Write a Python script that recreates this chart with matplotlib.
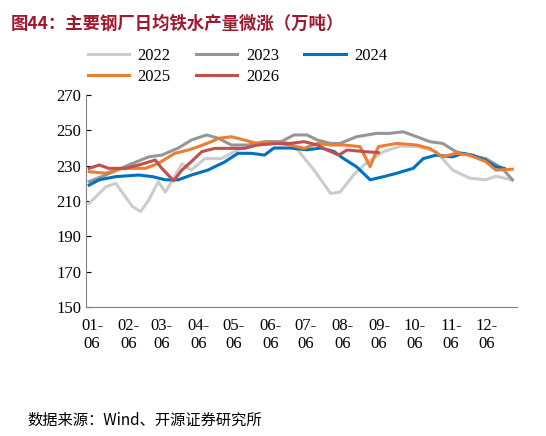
import matplotlib
matplotlib.use("Agg")
import matplotlib.pyplot as plt

plt.rcParams['font.family'] = ['Liberation Serif', 'Noto Sans CJK SC']

d22 = [2.5,16.5,25,39,46,53,61,67,81,89,100.5,114.5,128.5,142.5,156.5,168,179,193,207,215,226.5,238,252,266,280,296.5,310.5,324.5,338.5,347,361]
v22 = [208.7,218,220,207,204,210.6,221,215,231,227.5,234,234,239,242.6,243.6,243.6,239,227.5,214.3,215,224.7,232,238,241,241,238,227.5,223,222,224,222]
d23 = [2.5,16.5,36,53,64,78,89,102,112,123,137,151,165,176,187,196,207,215,229,246,257,268.5,280,291,302,313,324.5,338.5,352.5,361]
v23 = [221,224.7,230.4,235,236,240,244.5,247.4,245.5,241.7,241.7,243.6,243.6,247.4,247.4,244.5,242.6,242.6,246.4,248.3,248.3,249.2,246.4,243.6,242.6,238,236,234,228.5,222]
d24 = [2.5,11,25,44.5,56,67,78,89,103,117,128.5,140,151,159,173,187,199,210,218,229,240.5,252,263,277,285.5,296.5,310.5,319,327,338.5,347,354]
v24 = [219,222,223.8,224.7,223.8,222,222,224.7,227.5,232,237,237,236,240,240,239,240,238,234,229.4,222,223.8,225.7,228.5,234,236,235,237,236,233,229.4,228.5]
d25 = [2.5,16.5,30.5,42,50,61,75,86.5,95,106,112,123,134,145,162,173,184.5,196,207,218,232,240.5,247.5,263,280,291,302,313,324.5,338.5,347,361]
v25 = [226.6,225.7,228.5,228.5,228.5,231.3,237,238.9,240.8,243.6,245.5,246.4,244.5,242.6,242.6,241.7,239.8,242.6,241.7,241.7,240.8,229.4,240.8,242.6,241.7,239.8,235,237,236,232.3,227.5,228]
d26 = [2.5,11,19,33,44.5,58.5,64,74,81,89,98,109,120,134,145,162,173,184.5,196,204,214,221,235,247.5]
v26 = [228.5,230.4,228.5,228.5,230.4,233.2,228.5,221.5,227.5,232.3,238,239.8,239.8,239.8,241.7,242.6,242.6,243.6,241.7,238.9,236,238.9,238,237.4]

series = [("2022", d22, v22, "#CCCCCC"), ("2023", d23, v23, "#969696"),
          ("2024", d24, v24, "#0070C0"), ("2025", d25, v25, "#ED7D31"),
          ("2026", d26, v26, "#C0504D")]
tick_pos = [5,36,64,95,125,156,186,217,248,278,309,339]
tick_lab = [f"{m:02d}-\n06" for m in range(1, 13)]

fig = plt.figure(figsize=(5.46, 4.36), dpi=100)
ax = fig.add_axes([0.158, 0.296, 0.789, 0.486])
handles = []
for name, d, v, c in series:
    h, = ax.plot(d, v, color=c, lw=2.2, label=name)
    handles.append(h)
ax.set_xlim(0, 365)
ax.set_ylim(150, 270)
ax.set_yticks(range(150, 271, 20))
ax.set_xticks(tick_pos)
ax.set_xticklabels(tick_lab, fontsize=12)
ax.tick_params(axis='y', direction='in', labelsize=12)
ax.tick_params(axis='x', length=0, labelsize=12, pad=8)
for s in ['top', 'right']:
    ax.spines[s].set_visible(False)
for s in ['left', 'bottom']:
    ax.spines[s].set_color('#808080')
order = [0, 3, 1, 4, 2]
ax.legend([handles[i] for i in order], [series[i][0] for i in order],
          loc='lower left', bbox_to_anchor=(-0.02, 1.0), ncol=3, frameon=False,
          fontsize=12, handlelength=2.5, columnspacing=1.5, handletextpad=0.5,
          borderaxespad=0.2, labelspacing=0.3)

fig.text(0.02, 0.965, "图44：主要钢厂日均铁水产量微涨（万吨）", fontsize=12.5, fontweight='bold',
         color='#A01830', family=['Noto Sans CJK SC'], va='top')
fig.text(0.05, 0.035, "数据来源：Wind、开源证券研究所", fontsize=11,
         family=['Noto Sans CJK SC', 'Liberation Serif'], va='center')
fig.savefig("out.png", dpi=100)
